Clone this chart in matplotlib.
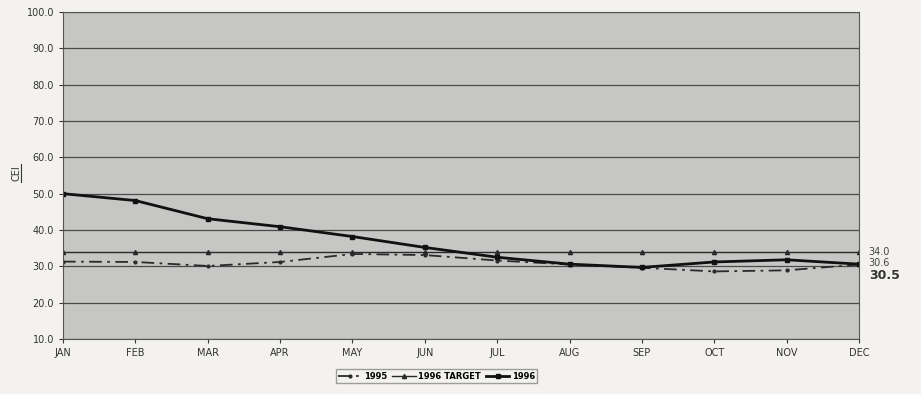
import matplotlib.pyplot as plt
from matplotlib.lines import Line2D

# Data
months = ['JAN', 'FEB', 'MAR', 'APR', 'MAY', 'JUN', 'JUL', 'AUG', 'SEP', 'OCT', 'NOV', 'DEC']
cei_1995 = [31.3, 31.2, 30.1, 31.2, 33.4, 33.1, 31.6, 30.5, 29.6, 28.6, 28.9, 30.5]
cei_target = [34.0] * 12
cei_1996 = [50.0, 48.1, 43.1, 40.9, 38.2, 35.2, 32.5, 30.6, 29.7, 31.2, 31.8, 30.6]
end_labels = ['34.0', '30.6', '30.5']

fig = plt.figure(figsize=(9.21, 3.94), dpi=100, facecolor='#f3f2ee')
ax = fig.add_axes([0.0684, 0.1396, 0.8643, 0.83])
ax.set_facecolor('#c6c6c4')

x = range(len(months))
ax.plot(x, cei_1995, color='#2a2a2a', lw=1.3, ls=(0, (7, 3, 1.5, 3)),
        marker='.', ms=4, label='1995')
ax.plot(x, cei_target, color='#2a2a2a', lw=1.0, marker='^', ms=3, label='1996 TARGET')
ax.plot(x, cei_1996, color='#111111', lw=2.0, marker='s', ms=3.5, label='1996')

ax.set_xlim(0, 11)
ax.set_ylim(10, 100)
ax.set_xticks(list(x))
ax.set_xticklabels(months)
ax.set_yticks(range(10, 101, 10))
ax.set_yticklabels(['%.1f' % v for v in range(10, 101, 10)])
ax.tick_params(labelsize=7, colors='#333333', length=3)
ax.yaxis.grid(True, color='#4a4a4a', lw=0.9)
for s in ax.spines.values():
    s.set_color('#555555')

# underlined y label
fig.text(0.0175, 0.561, 'CEI', rotation=90, fontsize=7, color='#333333',
         ha='center', va='center')
fig.add_artist(Line2D([0.0232, 0.0232], [0.537, 0.585], color='#333333', lw=0.8))

# labels at the right end
ax.annotate(end_labels[0], (11, cei_target[-1]), xytext=(7, 0), textcoords='offset points',
            va='center', fontsize=7, color='#444444', annotation_clip=False)
ax.annotate(end_labels[1], (11, cei_1996[-1]), xytext=(7, 1), textcoords='offset points',
            va='center', fontsize=7, color='#444444', annotation_clip=False)
ax.annotate(end_labels[2], (11, cei_1995[-1]), xytext=(7, -8), textcoords='offset points',
            va='center', fontsize=9, fontweight='bold', color='#333333', annotation_clip=False)

leg = fig.legend(loc='center', bbox_to_anchor=(0.474, 0.045), ncol=3, fontsize=6,
                 frameon=True, fancybox=False, handlelength=2.8, columnspacing=0.6,
                 handletextpad=0.3, borderpad=0.3)
leg.get_frame().set_edgecolor('#888888')
leg.get_frame().set_facecolor('#f3f2ee')
for t in leg.get_texts():
    t.set_fontweight('bold')

fig.savefig('out.png', dpi=100, facecolor=fig.get_facecolor())
